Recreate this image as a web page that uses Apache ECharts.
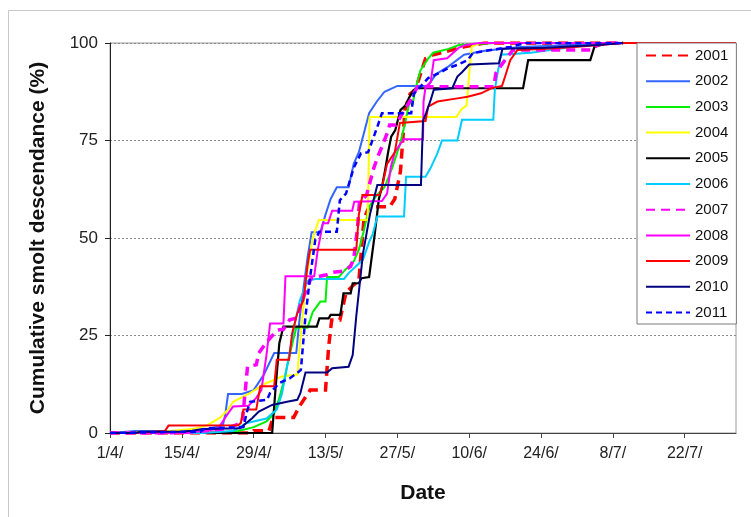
<!DOCTYPE html>
<html>
<head>
<meta charset="utf-8">
<script src="https://cdn.jsdelivr.net/npm/echarts@6/dist/echarts.min.js"></script>
<style>
  html, body { margin: 0; padding: 0; background: #fff; }
  #chart { width: 751px; height: 517px; }
</style>
</head>
<body>
<div id="chart"></div>
<script>
// Day 0 = 1 April; values are cumulative % of smolts descended by that day.
const years = ['2001','2002','2003','2004','2005','2006','2007','2008','2009','2010','2011'];
const xTickLabels = ['1/4/','15/4/','29/4/','13/5/','27/5/','10/6/','24/6/','8/7/','22/7/'];
const yTickValues = [0, 25, 50, 75, 100];

const y2001 = [[0,0],[27.5,0],[28,0.6],[31,0.6],[31.8,4],[35.8,4],[37,7],[39,11],[42,11],[42.6,22],[43.2,29],[44.8,29],[46,36],[47.5,38],[48.5,39],[49.5,55],[50.5,58],[54.5,58],[55.5,60],[56.6,67],[57.5,83],[58.5,87],[59.5,88],[60.5,92],[61.5,96],[63,97],[66,98],[69,99],[73,100],[100,100]];
const y2002 = [[0,0],[5,0.5],[18,0.5],[22,2],[22.5,5],[23,10],[25.7,10],[28,11],[30,15],[32,20.5],[36.3,20.5],[37,30],[38.5,45],[39.3,51.5],[41,51.5],[42,56],[43,60],[44.2,63],[46.5,63],[47.5,69],[48.5,72],[49.5,77],[50.5,82],[52,85],[53.5,87.5],[56,89],[62,89],[63.5,92],[66,94],[69,97],[73,98],[80,99],[90,99.5],[99,100]];
const y2003 = [[0,0],[20,0],[25,0.5],[28,1.5],[30.5,3],[32,5],[33,9],[34,14],[35,20],[36.3,27],[38.5,27],[39.5,31],[41,33.7],[42,33.7],[42.3,40],[44.6,40],[45.6,41.5],[47.5,44],[48.5,47],[49.5,52],[50.5,58],[52,61],[53.5,63],[55,68],[56.5,74],[57.6,80],[58.3,84.5],[59,84.5],[59.5,88],[60.5,93],[62,96],[63,97.5],[66,98.5],[68,99.5],[75,100],[100,100]];
const y2004 = [[0,0],[10,0.3],[16,1],[19,2],[21.5,4],[23,6],[24,8],[27,10],[30,12.5],[33.5,14.5],[36.5,15],[37.3,27],[38.3,40],[39.5,50],[40.7,54.6],[50.2,54.6],[50.6,81],[67.5,81],[68.5,83],[69.5,84],[70,92],[70.5,99],[72,100],[100,100]];
const y2005 = [[0,0],[31.6,0],[32.3,12],[33,23],[33.8,27.3],[40.3,27.3],[40.8,29.4],[42.6,29.4],[43,30.3],[44.9,30.3],[45.5,35.8],[46.9,35.8],[47.3,38.4],[48.5,38.4],[49,39.7],[50.5,40],[51.5,50],[52.4,60],[53,63],[53.7,68],[54.2,72],[54.8,76],[55.6,77.7],[56.6,82.8],[57.6,84],[58.3,86],[59.2,88],[60,88.4],[80.5,88.4],[81.5,95.6],[93.6,95.6],[94.4,99],[97,100],[100,100]];
const y2006 = [[0,0],[18,0],[24,0.5],[26.5,2.5],[30.5,3.7],[32.5,6],[33.5,10],[34.5,17],[36,28],[37,34],[38.5,39],[40,39.5],[45.6,39.5],[46.5,41],[49.3,44.4],[50.5,49],[51.2,51],[52.1,55.5],[57.3,55.5],[57.7,65.7],[61.5,65.7],[62.5,68],[63.8,71.7],[64.7,75],[67.7,75],[68.6,80.3],[74.7,80.3],[75,88],[75.5,92],[76.2,97],[82,97.5],[90,99],[97,100],[100,100]];
const y2007 = [[0,0],[12,0],[18,0.5],[22,1],[24.5,2],[25.8,3],[26.3,10],[26.8,17],[28.5,17.5],[29,20.5],[29.8,22],[31,24],[32.6,26.4],[33.8,26.6],[35,29],[36.5,29.5],[37,32.4],[38.5,37.5],[39.2,39.7],[42,40.5],[43.5,41.2],[45.5,41.5],[46.9,42.7],[47.5,44.8],[48.2,52],[48.6,58.9],[50,61],[51.4,67.9],[52.2,70.9],[53,73.4],[54,76.8],[54.5,79],[55.7,79],[57,82],[58.6,85.4],[59.9,88.8],[74.8,88.8],[75.2,92.2],[76.3,94.4],[77.5,96.5],[78.5,98.2],[93.8,98.2],[95,99.5],[97,100],[100,100]];
const y2008 = [[0,0],[15,0],[18,0.5],[21,1],[23,5],[24,6.8],[27,7],[28.5,9],[29.5,11],[30.5,20],[31.2,28.1],[33.8,28.1],[34.2,40.2],[39.8,40.2],[40.5,47],[41.5,53.8],[42.5,53.8],[43.3,57],[47.2,57],[47.6,59.3],[53,59.5],[54,61.4],[54.7,68],[55.5,72],[57.2,75.3],[61,75.3],[61.1,85],[61.5,88.7],[62.5,90],[63.1,95.6],[65.7,96.1],[68,98.8],[69.3,99.5],[72,100],[100,100]];
const y2009 = [[0,0],[4,0],[4.3,0.5],[10.7,0.5],[11.4,1.9],[25,2],[25.5,2.6],[26,6],[28.5,6],[29.3,12],[32,12],[32.5,18.8],[34.9,18.8],[35.5,25.6],[36.5,30.7],[37.7,34],[38.5,43],[39,47],[48,47],[48.5,56],[49.2,61],[52.5,61],[53,63],[54,69],[55.5,72],[56.5,79.5],[61.5,80],[62,83.7],[63.8,85],[67.7,85.8],[69.7,86.2],[72.3,87.1],[74.5,88.5],[76.4,89],[77,91.4],[78,95.6],[79.4,98.2],[85,98.5],[90.5,99],[100,100],[122,100]];
const y2010 = [[0,0],[5,0],[6,0.3],[14,0.3],[16,0.6],[18,1],[25.4,1.2],[26.5,2.5],[27.7,3.8],[29,5.5],[31.6,7.2],[34.5,8],[36.5,8.5],[37.1,10.2],[38.1,15.5],[42.3,15.5],[43.3,16.6],[46.5,17],[47.3,20],[48,30],[49.3,46],[50.7,56.3],[52.1,63.6],[60.6,63.6],[61,80],[61.6,82],[62.5,85.4],[63.1,88],[66.7,88.4],[67.7,91.4],[68.6,92.5],[70,94.5],[75.8,94.8],[76.5,98.5],[85,98.8],[95,99.5],[100,100]];
const y2011 = [[0,0],[13.7,0.3],[17.6,0.3],[18.5,1.2],[26,1.5],[26.7,5.5],[27.3,8],[30.6,8.5],[31.2,10.3],[33,12.8],[35,14],[36.5,15.4],[37.2,16.2],[38.1,30],[39,40],[40,49.5],[40.8,51.6],[44.2,51.6],[44.8,59.7],[46,61.4],[47.5,68],[48.9,71.7],[50.3,72],[52.1,78.5],[53,82],[58.7,82],[59.2,87],[60.5,88.8],[62,91],[64,92.2],[65.8,93.5],[67.7,94.4],[69.7,95.6],[70.7,97.4],[74.2,98.2],[78,99],[81,100],[100,100]];

const yearData = [y2001, y2002, y2003, y2004, y2005, y2006, y2007, y2008, y2009, y2010, y2011];
const yearColors = ['#FF0000','#3366FF','#00EE00','#FFFF00','#000000','#00CCFF','#FF00FF','#FF00FF','#FF0000','#000080','#0000FF'];
const yearWidths = [3.5, 2, 2, 2, 2.2, 2, 3.5, 2, 2, 2, 2.5];
const yearDash = [[10,6], 'solid', 'solid', 'solid', 'solid', 'solid', [9,6], 'solid', 'solid', 'solid', [6,4]];

const FONT = '"Liberation Sans", Arial, sans-serif';

const chart = echarts.init(document.getElementById('chart'), null, { renderer: 'canvas' });

const series = years.map((name, i) => ({
  name,
  type: 'line',
  data: yearData[i],
  symbol: 'none',
  smooth: false,
  lineStyle: { color: yearColors[i], width: yearWidths[i], type: yearDash[i], cap: 'butt', join: 'miter' },
  itemStyle: { color: yearColors[i] },
  emphasis: { disabled: true }
}));

chart.setOption({
  animation: false,
  backgroundColor: '#fff',
  textStyle: { fontFamily: FONT },
  graphic: [{
    type: 'rect', silent: true, z: -10,
    shape: { x: 8.5, y: 10.5, width: 760, height: 520 },
    style: { fill: 'none', stroke: '#C8C8C8', lineWidth: 1 }
  }],
  grid: {
    left: 110, top: 43, width: 626, height: 390,
    show: true, borderColor: '#9A9A9A', borderWidth: 1, backgroundColor: 'transparent'
  },
  xAxis: {
    type: 'value', min: 0, max: 122, interval: 14,
    name: 'Date', nameLocation: 'middle', nameGap: 50,
    nameTextStyle: { fontFamily: FONT, fontSize: 21, fontWeight: 'bold', color: '#111' },
    axisLine: { show: true, lineStyle: { color: '#444', width: 1 } },
    axisTick: { show: true, inside: false, length: 5, lineStyle: { color: '#444' },
      customValues: xTickLabels.map((_, i) => i * 14) },
    axisLabel: { fontFamily: FONT, fontSize: 16, color: '#222', margin: 13,
      customValues: xTickLabels.map((_, i) => i * 14),
      formatter: v => (v % 14 === 0 && xTickLabels[v / 14]) ? xTickLabels[v / 14] : '' },
    splitLine: { show: false }
  },
  yAxis: {
    type: 'value', min: 0, max: 100, interval: 25,
    name: 'Cumulative smolt descendance (%)', nameLocation: 'middle', nameGap: 61,
    nameTextStyle: { fontFamily: FONT, fontSize: 21, fontWeight: 'bold', color: '#111' },
    axisLine: { show: true, lineStyle: { color: '#222', width: 1 } },
    axisTick: { show: true, inside: false, length: 5, lineStyle: { color: '#222' } },
    axisLabel: { fontFamily: FONT, fontSize: 17, color: '#222', margin: 12,
      formatter: v => yTickValues.includes(v) ? String(v) : '' },
    splitLine: { show: true, lineStyle: { color: '#8A8A8A', width: 1, type: [2, 2] } }
  },
  legend: {
    orient: 'vertical', left: 637, top: 43,
    itemWidth: 44, itemHeight: 14, itemGap: 10.7,
    padding: [5, 8, 4, 8],
    borderColor: '#7A7A7A', borderWidth: 1, backgroundColor: '#fff',
    itemStyle: { opacity: 0 },
    textStyle: { fontFamily: FONT, fontSize: 15, color: '#111', lineHeight: 14, height: 14, padding: 0 },
    selectedMode: false,
    data: years
  },
  series
});
</script>
</body>
</html>
